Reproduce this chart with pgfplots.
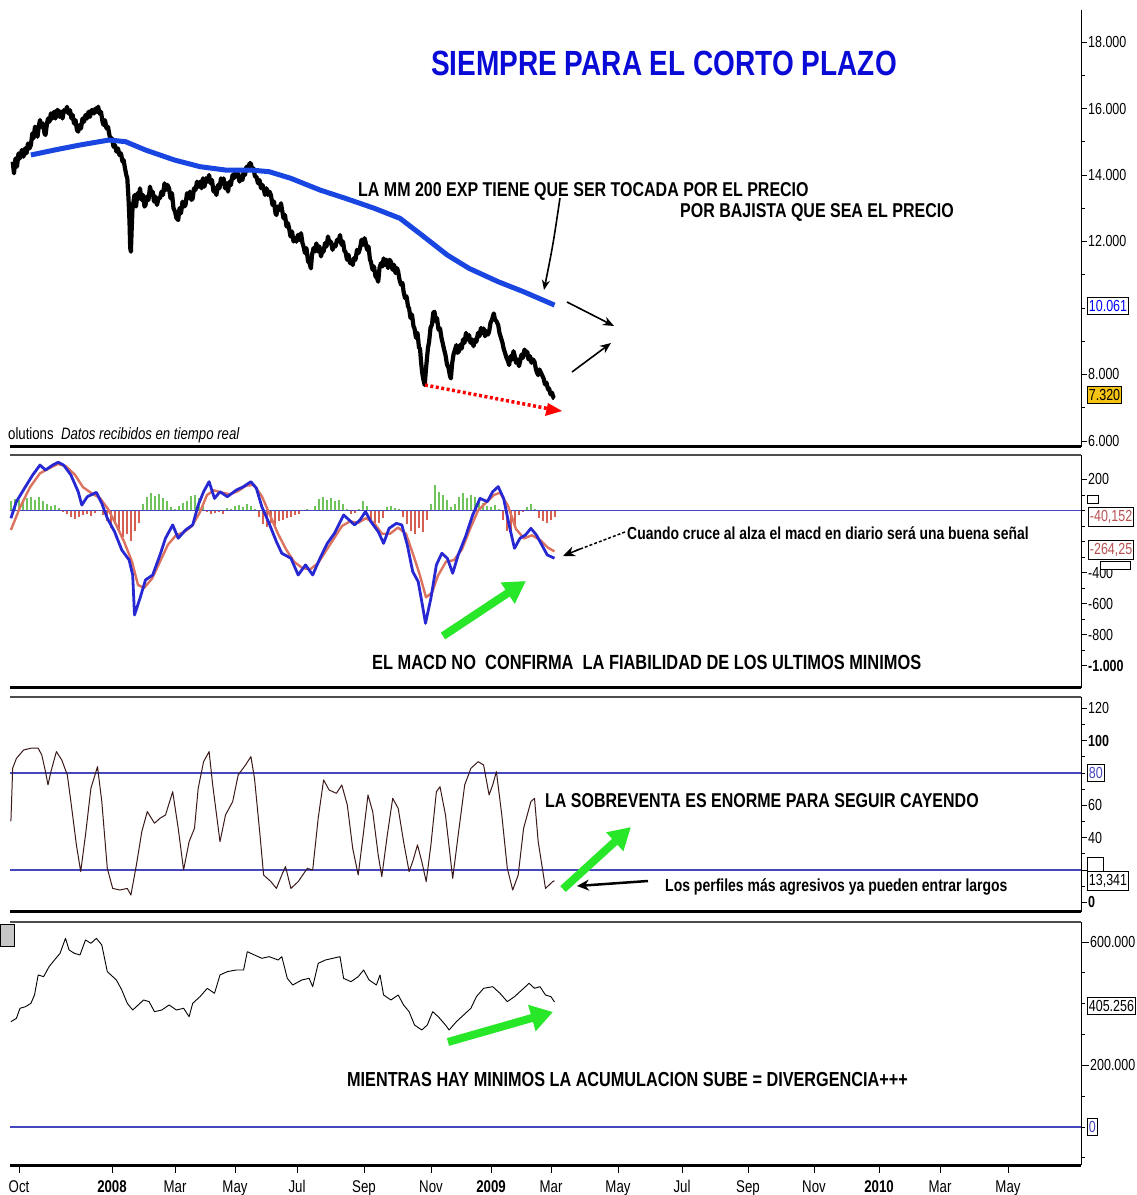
\documentclass[border=0pt]{standalone}
\usepackage{pgfplots}
\pgfplotsset{compat=1.18}
\usepackage{pgfplotstable}
\usetikzlibrary{arrows.meta}
\usepackage{fontspec}
\setmainfont{Liberation Sans}
\newfontfamily\nar[FakeStretch=0.8]{Liberation Sans}
\newfontfamily\narT[FakeStretch=0.8]{Liberation Sans}
\newfontfamily\narK[FakeStretch=0.78]{Liberation Sans}
\definecolor{pricema}{RGB}{25,70,225}
\definecolor{macdblue}{RGB}{40,40,210}
\definecolor{macdred}{RGB}{220,115,95}
\definecolor{histg}{RGB}{110,195,90}
\definecolor{histr}{RGB}{215,95,80}
\definecolor{refline}{RGB}{70,70,190}
\definecolor{arrowg}{RGB}{40,230,40}
\definecolor{titleblue}{RGB}{10,10,215}
\definecolor{goldbox}{RGB}{245,195,20}
\definecolor{boxred}{RGB}{185,80,80}
\definecolor{stoch}{RGB}{60,25,25}

\pgfplotstableread{
x h
11 60
15 75
19 70
23 55
27 80
31 90
35 70
39 85
43 60
47 40
51 30
55 35
59 15
63 -10
67 -25
71 -40
75 -55
79 -45
83 -30
87 -20
91 -35
95 -15
99 5
103 -30
107 -70
111 -110
115 -90
119 -130
123 -170
127 -150
131 -200
135 -130
139 -80
143 40
147 90
151 110
155 95
159 105
163 80
167 60
171 20
175 10
179 30
183 50
187 60
191 95
195 100
199 80
203 40
207 -10
211 -20
215 -15
219 -10
223 -20
227 15
231 10
235 30
239 35
243 25
247 40
251 30
255 10
259 -40
263 -90
267 -105
271 -80
275 -95
279 -70
283 -60
287 -50
291 -45
295 -30
299 -20
303 -5
307 10
311 5
315 30
319 75
323 89
327 70
331 80
335 60
339 70
343 40
347 10
351 -25
355 -15
359 10
363 60
367 30
371 -60
375 -100
379 -80
383 -50
387 20
391 30
395 15
399 10
403 -40
407 -90
411 -130
415 -150
419 -110
423 -140
427 -60
431 40
435 165
439 120
443 100
447 70
451 20
455 40
459 90
463 110
467 80
471 100
475 85
479 60
483 50
487 30
491 20
495 35
499 10
503 -60
507 -130
511 -140
515 -100
519 -30
523 -10
527 20
531 40
535 10
539 -50
543 -70
547 -80
551 -60
555 -40
}\hist

\pgfplotsset{panel/.style={
  scale only axis, width=1071pt, xmin=10, xmax=1081, anchor=south west,
  axis y line*=right, axis x line*=bottom,
  x axis line style={line width=3pt},
  y axis line style={line width=1pt},
  tick align=outside, major tick length=6pt, minor tick length=4pt,
  every tick/.style={black, line width=0.8pt},
  xtick=\empty, clip=false, scaled y ticks=false,
  yticklabel style={font=\narK\fontsize{16}{18}\selectfont, inner xsep=1pt},
  xticklabel style={font=\narK\fontsize{17}{19}\selectfont, yshift=-4pt},
}}

\begin{document}
\begin{tikzpicture}[x=1pt,y=1pt]
\path[use as bounding box] (0pt,0pt) rectangle (1137pt,1195pt);

% ---------------- Panel 1: price ----------------
\begin{axis}[panel, at={(10pt,748pt)}, height=437pt, ymin=5818, ymax=18963,
  ytick={6000,8000,12000,14000,16000,18000},
  yticklabels={6.000,8.000,12.000,14.000,16.000,18.000},
  minor ytick={7000,9000,10000,11000,13000,15000,17000}]
\addplot[black, line width=4.2pt, line join=round] coordinates {
(12.7,14400)(14,14050)(15.5,14500)(17,14250)(18.5,14650)(20,14500)(21.8,14751)(23.5,14550)(25,14800)(26.5,14650)(28,14950)(29.5,14800)(30.9,14902)(32.3,15250)(33.5,15100)(35,15450)(36.4,15403)(37.5,15150)(39,15500)(40,15654)(41.5,15450)(43,15550)(44.5,15250)(45.5,15202)(47,15550)(48,15700)(49.5,15600)(50.9,15854)(52.5,15700)(54,15900)(55.5,15700)(57,15950)(58.2,15955)(59.5,15750)(61,15900)(62.5,15700)(64,15950)(65.5,15905)(67,16050)(68.5,15850)(70,15950)(71.5,15700)(72.7,15804)(74,15550)(75.5,15650)(77,15350)(78.2,15303)(79.5,15500)(81,15400)(82.5,15700)(84,15600)(85.5,15804)(87,15700)(88.5,15900)(90,15750)(91.5,15950)(92.7,15955)(94,15850)(95.5,16000)(97,15900)(98.2,16055)(99.5,15850)(101,15900)(102.5,15600)(103.6,15503)(105,15650)(106.5,15400)(108,15450)(109.1,15253)(110.5,15050)(112,15100)(113.5,14850)(115,14900)(116.4,14701)(118,14800)(119.5,14600)(121,14650)(122.5,14400)(123.6,14450)(125,14200)(126.3,14000)(127.3,13899)(128.5,13300)(129.5,12600)(130.2,11800)(130.9,11692)(131.6,12300)(132.5,13000)(133.5,13200)(134.5,13397)(136,13050)(137.5,13450)(139,13300)(140,13598)(141.5,13250)(143,13400)(144.5,13050)(145.5,13096)(147,13350)(148.5,13250)(150,13650)(151.5,13400)(152.7,13497)(154,13200)(155.5,13350)(157,13100)(158.5,13300)(160,13297)(161.5,13500)(163,13400)(164.5,13750)(166,13550)(167.5,13700)(169.1,13598)(170.5,13300)(172,13450)(173.5,13000)(175,12900)(176.5,12700)(178.2,12645)(179.5,13000)(181,12850)(182.5,13200)(184,13050)(185.5,13096)(187,13450)(188.5,13300)(190,13500)(191.5,13250)(192.7,13297)(194,13600)(195.5,13550)(197,13800)(198.5,13650)(200,13798)(201.5,13600)(203,13900)(204.5,13650)(206,13900)(207.5,13800)(209.1,13999)(210.5,13750)(212,13850)(213.5,13500)(215,13600)(216.4,13397)(218,13700)(219.5,13600)(221,13900)(222.5,13750)(223.6,13899)(225,13600)(226.5,13750)(228,13500)(229.5,13800)(230.9,13698)(232.5,14000)(234,13900)(235.5,14150)(237,13950)(238.2,14049)(239.5,13800)(241,13950)(242.5,13850)(243.6,14099)(245,14000)(246.5,14250)(248,14150)(249.5,14350)(250.9,14350)(252,14150)(253.5,14200)(255,13950)(256.4,13949)(258,13750)(259.5,13850)(261,13600)(262.5,13700)(263.6,13598)(265,13400)(266.5,13600)(268,13400)(269.5,13500)(270.9,13397)(272.5,13100)(274,13200)(275.5,12850)(276.4,12795)(278,13050)(279.5,12950)(281,13150)(281.8,12996)(283.5,12700)(285,12800)(286.5,12450)(288,12550)(289.1,12394)(290.5,12150)(292,12300)(293.5,12000)(295,12100)(296.4,11993)(298,12200)(299.5,12050)(301,12250)(302.5,11950)(303.6,11842)(305,11650)(306.5,11800)(308,11400)(309.5,11350)(310.9,11190)(312,11600)(313.5,11800)(315,11700)(316.4,11943)(318,11700)(319.5,11850)(321,11550)(322.5,11750)(323.6,11692)(325,11950)(326.5,11850)(328,12150)(329.5,11950)(330.9,11993)(332.5,11750)(334,11900)(335.5,11850)(337,12050)(338.5,12000)(340,12194)(341.5,11900)(343,12000)(344.5,11700)(345.5,11692)(347,11450)(348.5,11600)(350,11350)(351.5,11400)(352.7,11291)(354,11500)(355.5,11450)(357,11750)(358.5,11650)(360,11792)(361.5,12050)(363,11900)(364.5,12100)(365.5,11993)(367,11750)(368.5,11850)(370,11450)(370.9,11391)(372.5,11150)(374,11250)(375.5,10950)(377,10900)(378.2,10789)(379.5,11200)(381,11350)(382.5,11250)(383.6,11491)(385,11300)(386.5,11450)(388,11200)(389.5,11450)(390.9,11391)(392.5,11150)(394,11300)(395.5,11050)(397,11200)(398.2,11090)(399.5,10850)(401,10700)(402.5,10750)(403.6,10488)(405,10300)(406.5,10350)(408,10050)(409.1,9987)(410.5,9700)(412,9800)(413.5,9450)(414.5,9385)(416,9100)(417.5,9250)(419,8800)(420,8783)(421,8400)(422,8100)(423,7900)(424.7,7680)(425.8,8100)(427,8500)(428,8800)(429.1,8984)(430.5,9400)(432,9500)(433.2,9850)(434.5,9887)(435.8,9600)(437,9700)(438.5,9350)(440,9385)(441.5,9100)(443,8900)(444.5,8700)(445.5,8583)(447,8300)(448.5,8200)(450,7950)(450.9,7880)(452,8300)(453.5,8600)(455,8750)(456.4,8884)(457.5,8650)(459,8700)(460.5,8900)(461.8,8783)(463,9050)(464.5,8950)(466,9250)(467.5,9050)(469.1,9185)(470.5,8950)(472,9050)(473.5,8850)(475,9050)(476.4,8984)(478,9250)(479.5,9150)(481,9400)(482.5,9250)(483.6,9385)(485,9150)(486.5,9300)(488,9200)(489.1,9285)(490.5,9550)(492,9650)(493.8,9836)(495,9650)(496.5,9600)(498.2,9485)(499.5,9250)(501,9100)(502.5,8950)(503.6,8783)(505,8650)(506.5,8500)(508,8400)(509.1,8282)(510.5,8550)(512,8450)(513.5,8700)(514.5,8583)(516,8350)(517.5,8450)(519,8250)(520,8382)(521.5,8600)(523,8500)(524.5,8750)(526,8600)(527.3,8683)(528.5,8450)(530,8550)(531.5,8350)(533,8450)(534.5,8382)(536,8150)(537,8050)(538.2,7981)(539.5,8150)(541,8050)(542.5,7950)(543.6,7880)(545,7700)(546.5,7750)(548,7550)(549.1,7580)(550.5,7400)(552,7450)(553.5,7300)(554.5,7279)};
\addplot[pricema, line width=5pt, line join=round] coordinates {
(30.9,14601)(54.5,14751)(80,14902)(109.1,15052)(125.5,15002)(145.5,14751)(174.5,14450)(200,14250)(225.5,14149)(250.9,14149)(269.1,14099)(290.9,13899)(320,13547)(345.5,13297)(374.5,12996)(400,12695)(421.8,12193)(447.3,11592)(469.1,11190)(498.2,10789)(523.6,10488)(554.5,10087)};
\end{axis}

% ---------------- Panel 2: MACD ----------------
\begin{axis}[panel, at={(10pt,507pt)}, height=233pt, ymin=-1145, ymax=358,
  ytick={200,-400,-600,-800,-1000},
  yticklabels={200,-400,-600,-800,\textbf{-1.000}},
  minor ytick={100,0,-100,-200,-300,-500,-700,-900}]
\addplot[ycomb, histg, line width=2.8pt, restrict y to domain=0:1000] table[x=x,y=h] {\hist};
\addplot[ycomb, histr, line width=2.8pt, restrict y to domain=-1000:0] table[x=x,y=h] {\hist};
\addplot[refline, line width=1.2pt] coordinates {(10,0)(1081,0)};
\addplot[macdred, line width=2.4pt, line join=round] coordinates {
(10.9,-126)(20,20)(30,150)(40,240)(50,275)(58,300)(66,285)(75,230)(83,150)(92,110)(100,80)(108,10)(116,-90)(124,-200)(132,-330)(138,-480)(144,-500)(152,-440)(160,-330)(168,-220)(176,-160)(184,-140)(192,-100)(200,-10)(207,100)(214,130)(222,115)(230,105)(238,125)(246,160)(254,165)(262,90)(270,-30)(278,-150)(286,-250)(294,-330)(302,-370)(310,-380)(318,-340)(326,-260)(334,-180)(342,-100)(350,-70)(358,-80)(366,-50)(374,-80)(382,-150)(390,-150)(398,-110)(406,-150)(414,-300)(420,-420)(426,-560)(432,-530)(438,-420)(446,-330)(454,-320)(462,-250)(470,-120)(478,0)(486,50)(494,100)(500,115)(508,30)(516,-120)(524,-180)(532,-160)(540,-190)(548,-240)(554.5,-264)};
\addplot[macdblue, line width=2.8pt, line join=round] coordinates {
(10.9,-50)(16.4,57)(25.5,154)(32.7,229)(40,293)(45.5,261)(52.7,293)(58.2,311)(63.6,293)(70.9,229)(78.2,121)(81.8,35)(87.3,89)(96.4,117)(101.8,46)(107.3,-50)(114.5,-136)(121.8,-255)(129.1,-319)(132.7,-416)(134.5,-674)(140,-566)(145.5,-448)(152.7,-416)(160,-287)(165.5,-179)(172.7,-93)(178.2,-179)(185.5,-126)(192.7,-93)(198.2,35)(203.6,121)(209.1,186)(214.5,78)(220,121)(227.3,89)(236.4,132)(243.6,154)(250.9,186)(256.4,143)(261.8,25)(269.1,-83)(276.4,-201)(281.8,-276)(290.9,-308)(298.2,-416)(305.5,-351)(312.7,-416)(320,-308)(327.3,-212)(334.5,-147)(343.6,-29)(349.1,-61)(354.5,-93)(360,-61)(365.5,-7)(370.9,-72)(378.2,-136)(383.6,-212)(389.1,-115)(396.4,-83)(401.8,-93)(407.3,-222)(412.7,-394)(418.2,-459)(421.8,-588)(425.5,-728)(430.9,-566)(436.4,-351)(441.8,-276)(447.3,-308)(452.7,-405)(458.2,-287)(465.5,-169)(472.7,-29)(480,78)(487.3,57)(492.7,121)(498.2,154)(503.6,78)(509.1,-93)(514.5,-244)(520,-179)(525.5,-158)(530.9,-115)(536.4,-158)(541.8,-222)(547.3,-287)(554.5,-308)};
\draw[gray!60!black, line width=2pt] (rel axis cs:0,1) -- (rel axis cs:1,1);
\end{axis}

% ---------------- Panel 3: stochastic ----------------
\begin{axis}[panel, at={(10pt,283pt)}, height=215pt, ymin=-6, ymax=127,
  ytick={0,20,40,60,100,120},
  yticklabels={\textbf{0},,40,60,\textbf{100},120},
  minor ytick={10,30,50,70,80,90,110}]
\addplot[refline, line width=1.2pt] coordinates {(10,80)(1081,80)};
\addplot[refline, line width=1.2pt] coordinates {(10,20)(1081,20)};
\addplot[stoch, line width=1pt, line join=round] coordinates {
(10.9,50)(12.7,83)(16.4,89)(23.6,94.2)(30.9,95.3)(38.2,95.3)(41.8,91.1)(45.5,80.8)(48,72.6)(50.9,80.8)(56.4,93.2)(61.8,88)(67.3,78.8)(70.9,62.3)(76.4,35.5)(80.7,19)(85.5,41.6)(90.9,70.5)(97.5,83.9)(101.8,62.3)(107.3,21)(112.7,8.6)(120,7.6)(127.3,8.6)(130.9,4.5)(136.4,23.1)(141.8,43.7)(147.3,56.1)(154.5,48.9)(160,52)(165.5,54)(172.7,68.4)(178.2,45.8)(183.6,20)(189.1,37.5)(194.5,45.8)(198.2,70.5)(203.6,87)(209.1,93.2)(212.7,72.6)(220,37.5)(225.5,54)(232.7,62.3)(238.2,78.8)(245.5,84.9)(250.9,90.1)(254.5,76.7)(260,41.6)(263.6,16.9)(270.9,12.8)(276.4,8.6)(281.8,16.9)(285.5,22.1)(290.9,8.6)(298.2,12.8)(307.3,21)(312.7,20)(318.2,52)(323.6,75.7)(329.1,69.5)(336.4,67.4)(341.8,72.6)(347.3,60.2)(352.7,33.4)(358.2,16.9)(363.6,43.7)(368,66.4)(372.7,56.1)(378.2,29.3)(381.8,15.9)(387.3,41.6)(392.7,64.3)(398.2,58.1)(403.6,37.5)(409.1,19)(412.7,25.2)(417.5,35.5)(421.8,25.2)(426.2,12.8)(430.9,35.5)(436.4,68.4)(440,71.5)(445.5,54)(452.7,14.8)(458.2,41.6)(464.7,72.6)(470.9,82.9)(478.2,87)(483.6,84.9)(489.1,66.4)(492.7,72.6)(496.4,80.8)(501.8,54)(507.3,21)(512.7,7.6)(518.2,16.9)(523.6,45.8)(530.9,62.3)(534.5,64.3)(538.2,37.5)(545.5,8.6)(552.7,12.8)(554.5,13.3)};
\draw[gray!60!black, line width=2pt] (rel axis cs:0,1) -- (rel axis cs:1,1);
\end{axis}

% ---------------- Panel 4: accumulation ----------------
\begin{axis}[panel, at={(10pt,30pt)}, height=243pt, ymin=-123200, ymax=664800,
  ytick={200000,600000},
  yticklabels={200.000,600.000},
  minor ytick={-100000,0,100000,300000,400000,500000},
  xtick={19,112,175,235,297,364,431,491,551,618,682,748,814,879,940,1008},
  xticklabels={Oct,\textbf{2008},Mar,May,Jul,Sep,Nov,\textbf{2009},Mar,May,Jul,Sep,Nov,\textbf{2010},Mar,May},
  major tick length=8pt]
\addplot[refline, line width=1.2pt] coordinates {(10,0)(1081,0)};
\addplot[black, line width=0.9pt, line join=round] coordinates {
(10.9,341600)(16.4,352400)(20,385000)(25.5,390200)(30.9,401000)(34.5,428100)(38.2,493000)(43.6,487500)(49.1,520000)(54.5,541600)(60,563000)(65.5,611900)(69.1,574000)(74.5,563000)(80,558000)(85.5,606500)(90.9,595600)(96.4,611900)(101.8,590200)(107.3,503800)(116.4,476700)(121.8,444300)(127.3,401000)(132.7,379400)(138.2,395700)(143.6,411900)(149.1,406500)(154.5,374000)(161.8,379400)(169.1,395700)(176.4,379400)(183.6,385000)(189.1,357800)(192.7,401000)(200,422700)(207.3,449700)(214.5,433500)(220,493000)(227.3,503800)(236.4,509200)(243.6,509200)(247.3,568600)(254.5,557800)(261.8,547000)(269.1,552400)(278.2,541600)(281.8,552400)(287.3,482100)(292.7,460500)(301.8,476700)(309.1,482100)(312.7,455100)(318.2,530800)(325.5,541600)(332.7,547000)(340,552400)(343.6,482100)(350.9,471300)(358.2,487500)(363.6,509200)(369.1,476700)(376.4,460500)(380,493000)(383.6,428100)(390.9,411900)(398.2,428100)(403.6,395700)(409.1,374000)(414.5,330800)(421.8,314600)(427.3,330800)(432.7,374000)(438.2,357800)(445.5,330800)(449.1,314600)(456.4,341600)(463.6,363200)(470.9,385000)(476.4,422700)(483.6,449700)(492.7,455100)(500,433500)(507.3,406500)(514.5,422700)(521.8,444300)(529.1,466000)(534.5,449700)(540,455100)(545.5,428100)(550.9,422700)(554.5,405256)};
\draw[gray!60!black, line width=2pt] (rel axis cs:0,1) -- (rel axis cs:1,1);
\end{axis}

% ---------------- annotations ----------------
\node[anchor=center, text=titleblue, font=\narT\bfseries\fontsize{35}{40}\selectfont, inner sep=0] at (664pt,1132pt) {SIEMPRE PARA EL CORTO PLAZO};
\begin{scope}[every node/.style={anchor=west, inner sep=0, font=\nar\bfseries\fontsize{20}{22}\selectfont}]
\node at (358pt,1004pt) {LA MM 200 EXP TIENE QUE SER TOCADA POR EL PRECIO};
\node at (680pt,983pt) {POR BAJISTA QUE SEA EL PRECIO};
\node[font=\nar\bfseries\fontsize{20.5}{22}\selectfont] at (372pt,533pt) {EL MACD NO\ \ CONFIRMA\ \ LA FIABILIDAD DE LOS ULTIMOS MINIMOS};
\node at (545pt,394pt) {LA SOBREVENTA ES ENORME PARA SEGUIR CAYENDO};
\node[font=\nar\bfseries\fontsize{20.3}{22}\selectfont] at (347pt,115pt) {MIENTRAS HAY MINIMOS LA ACUMULACION SUBE = DIVERGENCIA+++};
\end{scope}
\node[anchor=west, inner sep=0, font=\nar\bfseries\fontsize{17.4}{19}\selectfont] at (627pt,662pt) {Cuando cruce al alza el macd en diario será una buena señal};
\node[anchor=west, inner sep=0, font=\nar\bfseries\fontsize{17.5}{19}\selectfont] at (665pt,308pt) {Los perfiles más agresivos ya pueden entrar largos};
\node[anchor=west, inner sep=0, font=\nar\fontsize{16.5}{18}\selectfont] at (8pt,760pt) {olutions\ \ \itshape Datos recibidos en tiempo real};

% arrows panel 1
\draw[black, line width=1.6pt, -{Stealth[length=10pt,width=8pt]}] (560pt,997pt) .. controls (553pt,950pt) .. (544pt,905pt);
\draw[black, line width=1.6pt, -{Stealth[length=11pt,width=9pt]}] (567pt,893pt) -- (614pt,869pt);
\draw[black, line width=1.6pt, -{Stealth[length=11pt,width=9pt]}] (572pt,823pt) -- (611pt,852pt);
\draw[red, line width=3.5pt, dash pattern=on 3pt off 2.5pt] (425pt,810pt) -- (550pt,786pt);
\fill[red] (562pt,784pt) -- (548pt,792pt) -- (545pt,779pt) -- cycle;
% arrows panel 2
\draw[black, line width=1.5pt, densely dashed] (625pt,663pt) -- (575pt,644pt);
\draw[black, line width=1.5pt, -{Stealth[length=12pt,width=10pt]}] (580pt,646pt) -- (563pt,639pt);
\draw[arrowg, line width=8pt, -{Triangle[length=22pt,width=24pt]}] (443pt,559pt) -- (526pt,614pt);
% arrows panel 3
\draw[arrowg, line width=8pt, -{Triangle[length=22pt,width=24pt]}] (563pt,306pt) -- (631pt,368pt);
\draw[black, line width=2.5pt, -{Stealth[length=12pt,width=11pt]}] (648pt,314pt) -- (577pt,309pt);
% arrow panel 4
\draw[arrowg, line width=8pt, -{Triangle[length=22pt,width=26pt]}] (448pt,153pt) -- (553pt,183pt);

% icon
\draw[black, fill=gray!45] (0pt,249pt) rectangle (14pt,271pt);

% value boxes
\begin{scope}[every node/.style={anchor=west, draw=black, fill=white, inner xsep=1.5pt, inner ysep=3pt, line width=0.8pt, font=\narK\fontsize{16}{18}\selectfont}]
\node[text=blue] at (1087pt,889pt) {10.061};
\node[fill=goldbox] at (1087pt,800pt) {7.320};
\node[minimum width=11pt, minimum height=8pt, inner sep=0] at (1087pt,696pt) {};
\node[text=boxred] at (1088pt,678pt) {-40,152};
\node[minimum width=30pt, minimum height=8pt, inner sep=0] at (1100pt,630pt) {};
\node[text=boxred] at (1088pt,645pt) {-264,25};
\node[text=refline] at (1087pt,422pt) {80};
\node[minimum width=16pt, minimum height=20pt, inner sep=0] at (1087pt,328pt) {};
\node at (1087pt,314pt) {13,341};
\node at (1087pt,189pt) {405.256};
\node[text=refline] at (1087pt,68pt) {0};
\end{scope}
\end{tikzpicture}
\end{document}
